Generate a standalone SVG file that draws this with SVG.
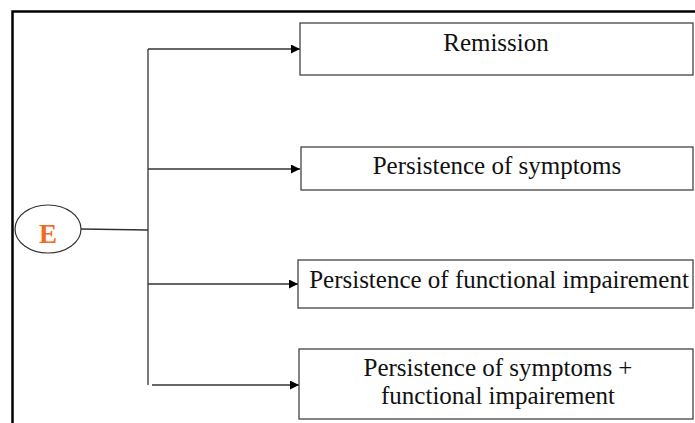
<svg xmlns="http://www.w3.org/2000/svg" width="695" height="423" viewBox="0 0 695 423">
<style>
.frame{fill:none;stroke:#000;stroke-width:2.5}
.box{fill:#fff;stroke:#444;stroke-width:1.3}
.lbl{font-family:"Liberation Serif","Times New Roman",serif;font-size:25px;fill:#111;text-anchor:middle}
.conn{fill:none;stroke:#333;stroke-width:1.3}
.e{font-family:"Liberation Serif","Times New Roman",serif;font-size:27px;font-weight:bold;fill:#f26a21;text-anchor:middle}
</style>
<defs>
<marker id="arr" viewBox="0 0 10 10" refX="10" refY="5" markerWidth="9" markerHeight="9" markerUnits="userSpaceOnUse" orient="auto">
<path d="M0,0 L10,5 L0,10 z" fill="#000"/>
</marker>
</defs>
<rect x="0" y="0" width="695" height="423" fill="#fff"/>
<path class="frame" d="M12.5,423 V11.5 H695"/>
<g id="connectors">
<line class="conn" x1="81" y1="229" x2="148" y2="230"/>
<line class="conn" x1="148" y1="49" x2="148" y2="385"/>
<line class="conn" x1="148" y1="49" x2="300" y2="49" marker-end="url(#arr)"/>
<line class="conn" x1="148" y1="169" x2="300" y2="169" marker-end="url(#arr)"/>
<line class="conn" x1="148" y1="284" x2="298" y2="284" marker-end="url(#arr)"/>
<line class="conn" x1="152" y1="385" x2="299" y2="385" marker-end="url(#arr)"/>
</g>
<g id="nodeE">
<ellipse cx="48" cy="229" rx="33" ry="24" fill="#fff" stroke="#333" stroke-width="1.2"/>
<text class="e" x="48" y="243">E</text>
</g>
<g id="remission">
<rect class="box" x="300" y="23" width="393" height="52"/>
<text class="lbl" x="496" y="51">Remission</text>
</g>
<g id="symptoms">
<rect class="box" x="301" y="147" width="392" height="43"/>
<text class="lbl" x="497" y="174">Persistence of symptoms</text>
</g>
<g id="functional">
<rect class="box" x="298" y="260" width="395" height="48"/>
<text class="lbl" x="499" y="288">Persistence of functional impairement</text>
</g>
<g id="both">
<rect class="box" x="299" y="349" width="394" height="70"/>
<text class="lbl" x="498" y="376">Persistence of symptoms +</text>
<text class="lbl" x="498" y="404">functional impairement</text>
</g>
</svg>
